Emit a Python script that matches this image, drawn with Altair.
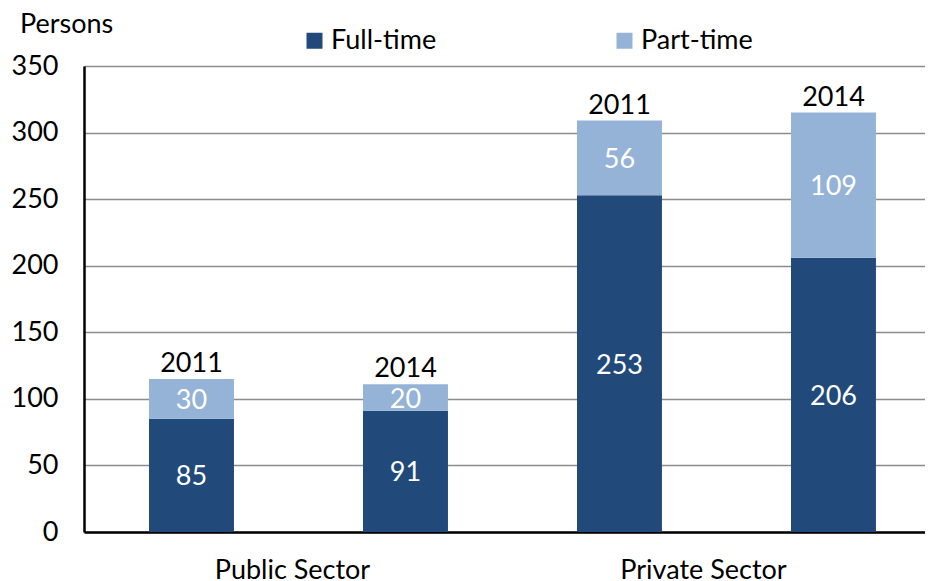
import altair as alt
import pandas as pd

sectors = ["Public Sector", "Public Sector", "Private Sector", "Private Sector"]
years = ["2011", "2014", "2011", "2014"]
full_time = [85, 91, 253, 206]
part_time = [30, 20, 56, 109]
types = ["Full-time", "Part-time"]
colors = ["#214A7B", "#95B3D7"]
y_ticks = [0, 50, 100, 150, 200, 250, 300, 350]

rows = []
for s, y, f, p in zip(sectors, years, full_time, part_time):
    key = s + "|" + y
    rows.append({"key": key, "sector": s, "year": y, "type": types[0], "value": f, "ord": 0})
    rows.append({"key": key, "sector": s, "year": y, "type": types[1], "value": p, "ord": 1})
df = pd.DataFrame(rows)
keys = [s + "|" + y for s, y in zip(sectors, years)]

FONT = "Lato"
FS = 27

x_enc = alt.X(
    "key:N",
    sort=keys,
    scale=alt.Scale(paddingInner=0.603, paddingOuter=0.2665, align=0.57),
    axis=alt.Axis(
        title=None, ticks=False, domain=True, domainColor="black", domainWidth=2.5,
        labelFontSize=FS, labelColor="black", labelPadding=25, labelAngle=0,
        labelOverlap=False, labelBound=False,
        labelExpr="indexof(datum.value, '2011') >= 0 ? split(datum.value, '|')[0] : ''",
        labelOffset={"condition": {"test": "indexof(datum.value, 'Private') >= 0", "value": 84}, "value": 101},
    ),
)

base = alt.Chart(df).transform_stack(
    stack="value", groupby=["key"], as_=["v0", "v1"],
    sort=[alt.SortField("ord", order="ascending")],
).transform_calculate(mid="(datum.v0 + datum.v1) / 2")

y_scale = alt.Scale(domain=[0, 350], nice=False, zero=True)

bars = base.mark_bar().encode(
    x=x_enc,
    y=alt.Y(
        "v0:Q", scale=y_scale,
        axis=alt.Axis(
            title=None, values=y_ticks, ticks=False, grid=True, gridColor="#8c8c8c",
            gridWidth=1.5, domain=True, domainColor="black", domainWidth=2.5,
            labelFontSize=FS, labelColor="black", labelPadding=26,
        ),
    ),
    y2="v1:Q",
    color=alt.Color(
        "type:N",
        scale=alt.Scale(domain=types, range=colors),
        legend=alt.Legend(
            title=None, orient="none", legendX=217, legendY=-39, direction="horizontal",
            symbolType="square", symbolSize=256, symbolStrokeWidth=0,
            labelFontSize=FS, labelColor="black", labelOffset=3, columnPadding=174,
        ),
    ),
)

inside = base.mark_text(color="white", fontSize=FS, baseline="middle", dy=2).encode(
    x=x_enc,
    y=alt.Y("mid:Q", scale=y_scale),
    text=alt.Text("value:Q"),
)

tops = base.transform_filter("datum.type == 'Part-time'").mark_text(
    color="black", fontSize=FS, baseline="bottom", dy=-1
).encode(
    x=x_enc,
    y=alt.Y("v1:Q", scale=y_scale),
    text=alt.Text("year:N"),
)

persons = alt.Chart(pd.DataFrame({"t": ["Persons"]})).mark_text(
    align="left", baseline="middle", fontSize=FS, color="black"
).encode(x=alt.value(-64), y=alt.value(-41), text="t:N")

chart = alt.layer(bars, inside, tops, persons).properties(
    width=841, height=466,
    autosize=alt.AutoSizeParams(type="none"),
    padding={"left": 76, "top": 58, "right": 0, "bottom": 49},
).configure(font=FONT).configure_view(stroke=None)

chart.save("out.html", embed_options={"renderer": "svg", "actions": False})
